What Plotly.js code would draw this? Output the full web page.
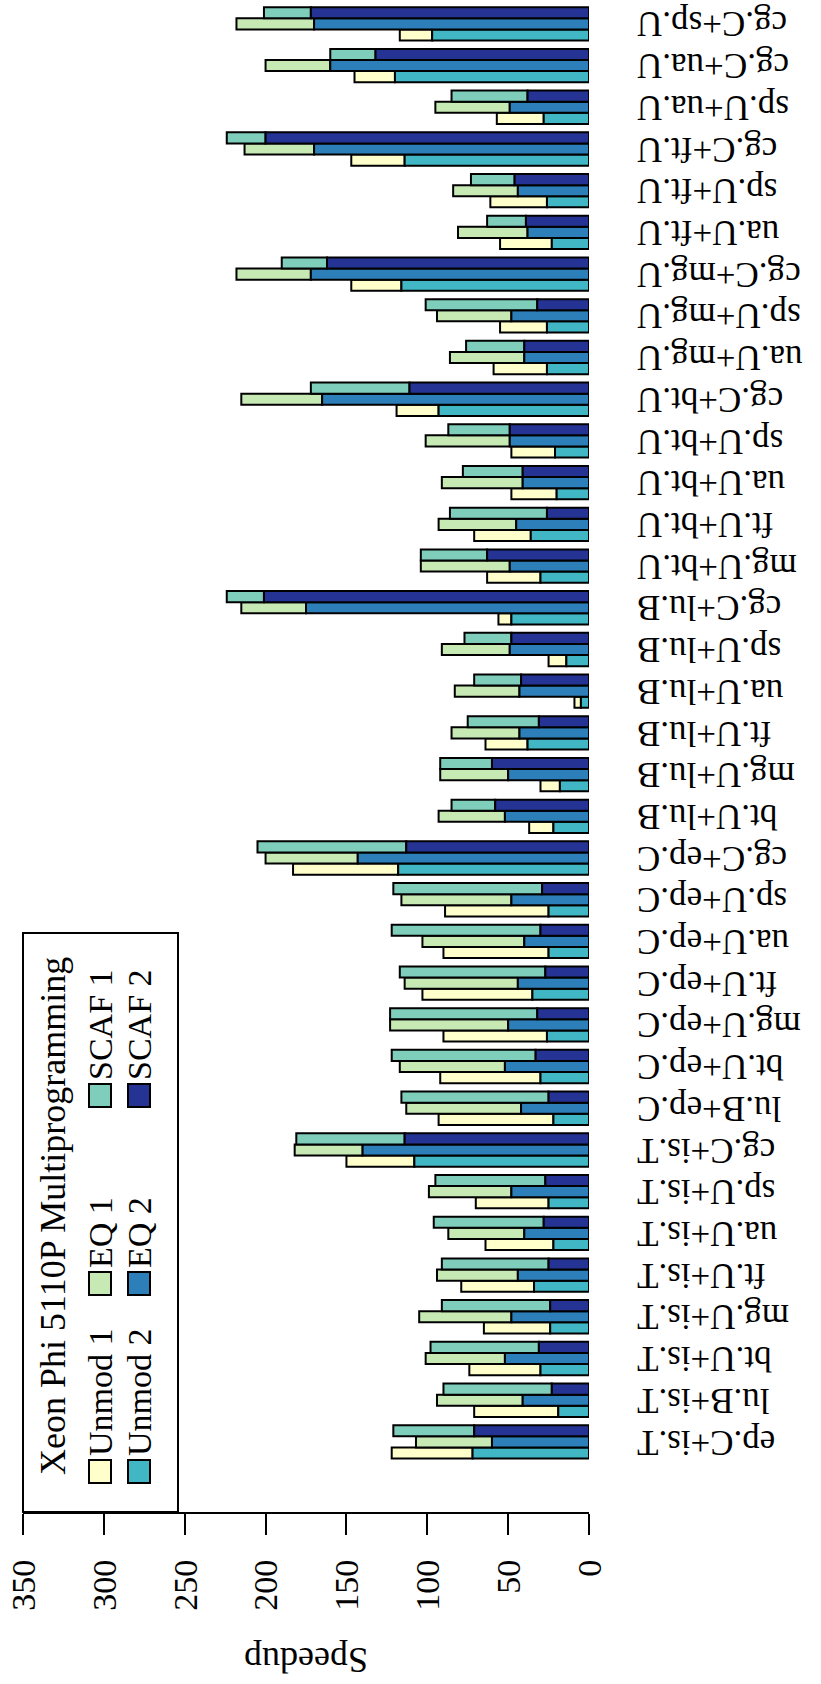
<!DOCTYPE html>
<html>
<head>
<meta charset="utf-8">
<script src="https://cdn.plot.ly/plotly-3.0.1.min.js"></script>
<style>
  html, body { margin: 0; padding: 0; background: #fff; overflow: hidden; width: 821px; height: 1684px; }
  #chart { position: absolute; left: 0; top: 0; width: 1684px; height: 821px;
           transform-origin: 0 0; transform: translateY(1684px) rotate(-90deg); }
</style>
</head>
<body>
<div id="chart"></div>
<script>
const categories = [
  "ep.C+is.T","lu.B+is.T","bt.U+is.T","mg.U+is.T","ft.U+is.T","ua.U+is.T","sp.U+is.T","cg.C+is.T",
  "lu.B+ep.C","bt.U+ep.C","mg.U+ep.C","ft.U+ep.C","ua.U+ep.C","sp.U+ep.C","cg.C+ep.C",
  "bt.U+lu.B","mg.U+lu.B","ft.U+lu.B","ua.U+lu.B","sp.U+lu.B","cg.C+lu.B",
  "mg.U+bt.U","ft.U+bt.U","ua.U+bt.U","sp.U+bt.U","cg.C+bt.U",
  "ua.U+mg.U","sp.U+mg.U","cg.C+mg.U",
  "ua.U+ft.U","sp.U+ft.U","cg.C+ft.U",
  "sp.U+ua.U","cg.C+ua.U","cg.C+sp.U"
];
// segment values (speedup of program 2 at the base, program 1 stacked on top)
const unmod2 = [72,19,30,24,34,22,25,108, 22,30,26,35,25,25,118, 22,18,38,5,14,48, 30,36,20,21,93, 26,26,116, 23,26,114, 28,120,97];
const unmod1 = [50,52,44,41,45,42,45,42, 71,62,64,68,65,64,65, 15,12,26,4,11,8, 33,35,28,27,26, 33,29,31, 32,35,33, 29,25,20];
const eq2    = [60,41,52,48,44,40,48,140, 42,52,50,44,40,48,143, 52,50,43,43,49,175, 49,45,41,49,165, 40,48,172, 38,44,170, 49,160,170];
const eq1    = [47,53,49,57,50,47,51,42, 71,65,73,70,63,68,57, 41,42,42,40,42,40, 55,48,50,52,50, 46,46,46, 43,40,43, 46,40,48];
const scaf2  = [71,23,31,24,25,28,27,114, 25,33,32,27,30,29,113, 58,60,31,42,48,201, 63,26,41,49,111, 40,32,162, 39,46,200, 38,132,172];
const scaf1  = [50,67,67,67,66,68,68,67, 91,89,91,90,92,92,92, 27,32,44,29,29,23, 41,60,37,38,61, 36,69,28, 24,27,24, 47,28,29];
const legendTitle = "Xeon Phi 5110P Multiprogramming";
const legendRows = [["Unmod 1","EQ 1","SCAF 1"],["Unmod 2","EQ 2","SCAF 2"]];
const colors = {"Unmod 1":"#ffffcc","Unmod 2":"#41b6c4","EQ 1":"#c7e9b4","EQ 2":"#2c7fb8","SCAF 1":"#7fcdbb","SCAF 2":"#253494"};
const tickValues = [0,50,100,150,200,250,300,350];

const FONT = "Liberation Serif, Times New Roman, serif";
function bar(name, y, base, group) {
  const t = {
    type: "bar", name: name, x: categories, y: y, offsetgroup: group,
    marker: { color: colors[name], line: { color: "#000", width: 2 } },
    hoverinfo: "skip", showlegend: false
  };
  if (base) t.base = base;
  return t;
}
const data = [
  bar("Unmod 1", unmod1, unmod2, "u"),
  bar("Unmod 2", unmod2, null, "u"),
  bar("EQ 1", eq1, eq2, "e"),
  bar("EQ 2", eq2, null, "e"),
  bar("SCAF 1", scaf1, scaf2, "s"),
  bar("SCAF 2", scaf2, null, "s")
];

// legend box drawn in pixel offsets from the plot's top-left corner
const shapes = [{
  type: "rect", xref: "paper", yref: "paper", xsizemode: "pixel", ysizemode: "pixel",
  xanchor: 0, yanchor: 1, x0: 0, x1: 579, y0: 0, y1: -155,
  line: { color: "#000", width: 2 }, fillcolor: "#fff", layer: "above"
}];
const annotations = [{
  text: "Speedup", xref: "paper", yref: "paper", x: 0, y: 0.5,
  xanchor: "center", yanchor: "middle", xshift: -148, textangle: -90, showarrow: false,
  font: { family: FONT, size: 36, color: "#000" }
}, {
  text: legendTitle, xref: "paper", yref: "paper", x: 0, y: 1,
  xanchor: "left", yanchor: "middle", xshift: 35, yshift: -30, showarrow: false,
  font: { family: FONT, size: 36, color: "#000" }
}];
legendRows.forEach(function (row, r) {
  row.forEach(function (name, c) {
    const sx = 29 + 188 * c, sy = -(77 + 39 * r);
    shapes.push({
      type: "rect", xref: "paper", yref: "paper", xsizemode: "pixel", ysizemode: "pixel",
      xanchor: 0, yanchor: 1, x0: sx, x1: sx + 23, y0: sy + 11, y1: sy - 11,
      line: { color: "#000", width: 2 }, fillcolor: colors[name], layer: "above"
    });
    annotations.push({
      text: name, xref: "paper", yref: "paper", x: 0, y: 1,
      xanchor: "left", yanchor: "middle", xshift: sx + 25, yshift: sy, showarrow: false,
      font: { family: FONT, size: 34, color: "#000" }
    });
  });
});

const layout = {
  width: 1684, height: 821,
  margin: { l: 172, r: 3, t: 23, b: 232 },
  paper_bgcolor: "#fff", plot_bgcolor: "#fff",
  font: { family: FONT, size: 34, color: "#000" },
  barmode: "group", bargap: 0.2, bargroupgap: 0,
  showlegend: false,
  xaxis: {
    type: "category", categoryorder: "array", categoryarray: categories,
    tickmode: "array", tickvals: categories, ticktext: categories,
    range: [-1.68, 34.5], tickangle: -90, showline: false, showgrid: false, zeroline: false,
    ticks: "", ticklabelstandoff: 40,
    tickfont: { family: FONT, size: 35, color: "#000" }
  },
  yaxis: {
    range: [0, 350], tickvals: tickValues, ticktext: tickValues.map(String),
    ticks: "outside", ticklen: 21, tickwidth: 2, tickcolor: "#000",
    showline: true, linewidth: 2, linecolor: "#000", showgrid: false, zeroline: false,
    ticklabelstandoff: 18,
    tickfont: { family: FONT, size: 34, color: "#000" }
  },
  shapes: shapes,
  annotations: annotations
};
Plotly.newPlot("chart", data, layout, { staticPlot: true, displayModeBar: false });
</script>
</body>
</html>
